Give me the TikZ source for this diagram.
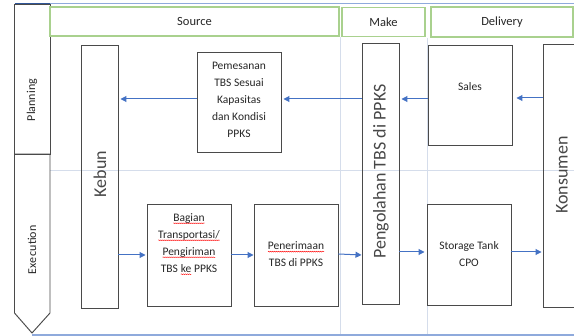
\documentclass[tikz,border=0pt]{standalone}
\usepackage{fontspec}
\setmainfont{Carlito}
\usetikzlibrary{arrows.meta,decorations.pathmorphing}
\definecolor{arr}{HTML}{4472C4}
\definecolor{hdr}{HTML}{A9D18E}
\definecolor{divc}{HTML}{D5DDEB}
\definecolor{edgec}{HTML}{4A4A4A}
\definecolor{lineb}{HTML}{8FAADC}
\definecolor{darkb}{HTML}{2F5597}
\definecolor{txtc}{HTML}{262626}
\newcommand\redwave[1]{\tikz[baseline=(w.base)]{\node[inner sep=0pt,outer sep=0pt] (w) {#1};\draw[red, line width=0.4pt, decorate, decoration={snake,amplitude=0.45pt,segment length=2pt}] ([yshift=-2.2pt]w.base west) -- ([yshift=-2.2pt]w.base east);}}
\tikzset{
  procbox/.style={draw=edgec, line width=0.95pt, inner sep=0pt},
  hdrbox/.style={draw=hdr, line width=1.1pt, inner sep=0pt, text=txtc, font=\fontsize{12.5}{15}\selectfont},
  txt/.style={align=center, inner sep=0pt, text=txtc, font=\fontsize{11.5}{17}\selectfont},
  bigtxt/.style={rotate=90, inner sep=0pt, text=txtc!85, font=\fontsize{18}{20}\selectfont},
  lanetxt/.style={rotate=90, inner sep=0pt, text=txtc, font=\fontsize{12}{14}\selectfont},
  arw/.style={draw=arr, line width=1pt, -{Triangle[length=6pt,width=6pt]}},
  divline/.style={draw=divc, line width=0.8pt}
}
\begin{document}
\begin{tikzpicture}[x=1pt,y=-1pt]
\useasboundingbox (0,0) rectangle (574,336);
% lane dividers
\draw[divline] (340,37) -- (340,336);
\draw[divline] (427,38) -- (427,336);
\draw[divline] (50,170) -- (574,170);
% top and bottom lines
\draw[lineb, line width=1pt] (50,3.5) -- (574,3.5);
\draw[darkb, line width=1pt] (14.5,3.5) -- (50,3.5);
\coordinate (bl) at (32,335);
\coordinate (br) at (574,335);
\draw[lineb, line width=1.2pt] (bl) -- (br);
% left lanes
\node[procbox, minimum width=35.5pt, minimum height=150pt] (plan) at (32.25,79) {};
\node[lanetxt] (plantxt) at (32,100) {Planning};
\draw[edgec, line width=0.95pt] (14.5,154) -- (50,154) -- (50,313) -- (32,333) -- (14.5,313) -- cycle;
\node[lanetxt] (exetxt) at (32,250) {Exe\hspace{1.5pt}cution};
% headers
\node[hdrbox, minimum width=289pt, minimum height=29pt] (src) at (194.5,21.5) {Source};
\node[hdrbox, minimum width=83pt, minimum height=29pt] (make) at (383.5,22) {Make};
\node[hdrbox, minimum width=142pt, minimum height=30pt] (dlv) at (502,22) {Delivery};
% process boxes
\node[procbox, minimum width=36.5pt, minimum height=263pt] (kebun) at (99.75,176.5) {};
\node[bigtxt] (kebuntxt) at (100,174) {Kebun};
\node[procbox, minimum width=84pt, minimum height=100pt] (pem) at (239,102) {};
\node[txt] (pemtxt) at (239,100) {Pemesanan\\TBS Sesuai\\Kapasitas\\dan Kondisi\\PPKS};
\node[procbox, minimum width=37pt, minimum height=261pt] (peng) at (380.5,173.5) {};
\node[bigtxt] (pengtxt) at (381,171.5) {Pengolahan TBS di PPKS};
\node[procbox, minimum width=84pt, minimum height=100pt] (sales) at (470,95) {};
\node[txt] (salestxt) at (470,87) {Sales};
\node[procbox, minimum width=37pt, minimum height=263pt] (kons) at (561.5,175.5) {};
\node[bigtxt] (konstxt) at (562,175) {Konsumen};
\node[procbox, minimum width=84pt, minimum height=102pt] (bag) at (189,255) {};
\node[txt] (bagtxt) at (189,244) {\redwave{Bagian}\\\redwave{Transportasi/}\\\redwave{Pengiriman}\\TBS \redwave{ke} PPKS};
\node[procbox, minimum width=84pt, minimum height=102pt] (pen) at (296,255) {};
\node[txt] (pentxt) at (296,254) {\redwave{Penerimaan}\\TBS di PPKS};
\node[procbox, minimum width=84pt, minimum height=101pt] (sto) at (469,254.5) {};
\node[txt] (stotxt) at (469,254) {Storage Tank\\CPO};
% planning arrows
\draw[arw] ([yshift=3pt]pem.west) -- ([yshift=3pt,xshift=2pt]pem.west -| kebun.east);
\draw[arw] ([yshift=3pt]peng.west |- pem.east) -- ([yshift=3pt,xshift=2pt]pem.east);
\draw[arw] (sales.west |- 0,99) -- ([xshift=2pt]peng.east |- 0,99);
\draw[arw] (kons.west |- 0,98) -- ([xshift=4pt]sales.east |- 0,98);
% execution arrows
\draw[arw] (kebun.east |- bag.west) -- ([xshift=-1pt]bag.west);
\draw[arw] (bag.east) -- (pen.west);
\draw[arw] ([yshift=1pt]pen.east) -- (peng.west |- pen.east);
\draw[arw] (peng.east |- 0,252) -- ([xshift=-2pt]sto.west |- 0,252);
\draw[arw] (sto.east |- 0,252) -- ([xshift=-1pt]kons.west |- 0,252);
\end{tikzpicture}
\end{document}
